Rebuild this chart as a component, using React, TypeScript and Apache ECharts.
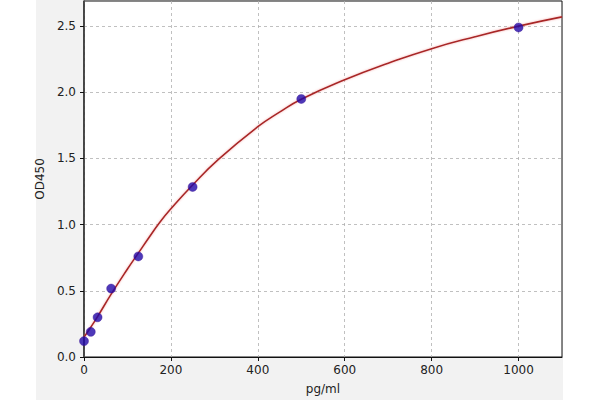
import React, { useEffect, useRef } from "react";
import * as echarts from "echarts";

// Standard concentrations (pg/ml) and measured OD450
const stdConc = [0, 15.6, 31.25, 62.5, 125, 250, 500, 1000];
const stdOD = [0.12, 0.19, 0.3, 0.517, 0.76, 1.285, 1.95, 2.49];

// Fitted curve
const curveX = [0, 15.6, 31.25, 62.5, 100, 125, 150, 175, 200, 250, 310, 400, 450, 500, 600, 700, 800, 900, 1000, 1100];
const curveY = [0.15, 0.225, 0.305, 0.475, 0.665, 0.785, 0.905, 1.02, 1.12, 1.3, 1.495, 1.74, 1.85, 1.948, 2.095, 2.22, 2.33, 2.42, 2.5, 2.57];

const xTicks = [0, 200, 400, 600, 800, 1000];
const yTicks = [0, 0.5, 1.0, 1.5, 2.0, 2.5];

export default function App() {
  const ref = useRef<HTMLDivElement>(null);
  useEffect(() => {
    document.body.style.margin = "0";
    const chart = echarts.init(ref.current!, undefined, { renderer: "svg" });
    const font = "DejaVu Sans";
    chart.setOption({
      animation: false,
      backgroundColor: "#ffffff",
      graphic: [
        {
          type: "rect",
          z: -10,
          silent: true,
          shape: { x: 36, y: 0, width: 527, height: 400 },
          style: { fill: "#f2f2f2" },
        },
      ],
      grid: {
        left: 84,
        right: 38,
        top: 1,
        bottom: 40,
        show: true,
        backgroundColor: "#ffffff",
        borderColor: "#111",
        borderWidth: 1,
      },
      xAxis: {
        type: "value",
        min: 0,
        max: 1100,
        interval: 200,
        name: "pg/ml",
        nameLocation: "middle",
        nameGap: 26,
        nameTextStyle: { fontFamily: font, fontSize: 12, color: "#222" },
        axisLine: { show: true, lineStyle: { color: "#111", width: 1 } },
        axisTick: { show: true, length: 4, lineStyle: { color: "#111" }, customValues: xTicks },
        axisLabel: {
          fontFamily: font,
          fontSize: 12,
          color: "#222",
          margin: 7,
          customValues: xTicks,
          formatter: (v: number) => String(v),
        },
        splitLine: {
          show: true,
          lineStyle: { color: "#b0b0b0", type: [3, 3], width: 0.8 },
        },
      },
      yAxis: {
        type: "value",
        min: 0,
        max: 2.69,
        interval: 0.5,
        name: "OD450",
        nameLocation: "middle",
        nameGap: 37,
        nameTextStyle: { fontFamily: font, fontSize: 12, color: "#222" },
        axisLine: { show: true, lineStyle: { color: "#333", width: 1.5 } },
        axisTick: { show: true, length: 4, lineStyle: { color: "#111" }, customValues: yTicks },
        axisLabel: {
          fontFamily: font,
          fontSize: 12,
          color: "#222",
          margin: 8,
          customValues: yTicks,
          formatter: (v: number) => v.toFixed(1),
        },
        splitLine: {
          show: true,
          lineStyle: { color: "#b0b0b0", type: [3, 3], width: 0.8 },
        },
      },
      series: [
        {
          type: "line",
          data: curveX.map((x, i) => [x, curveY[i]]),
          smooth: 0.5,
          showSymbol: false,
          lineStyle: {
            color: "#a82626",
            width: 1.6,
            shadowColor: "rgba(240,120,120,0.6)",
            shadowBlur: 2,
          },
          z: 2,
        },
        {
          type: "scatter",
          data: stdConc.map((x, i) => [x, stdOD[i]]),
          symbolSize: 9,
          itemStyle: { color: "#2008a8", borderColor: "#3a0c90", borderWidth: 0.5 },
          z: 3,
        },
      ],
    });
    return () => chart.dispose();
  }, []);
  return (
    <div
      ref={ref}
      style={{ position: "absolute", left: 0, top: 0, width: 600, height: 400 }}
    />
  );
}
